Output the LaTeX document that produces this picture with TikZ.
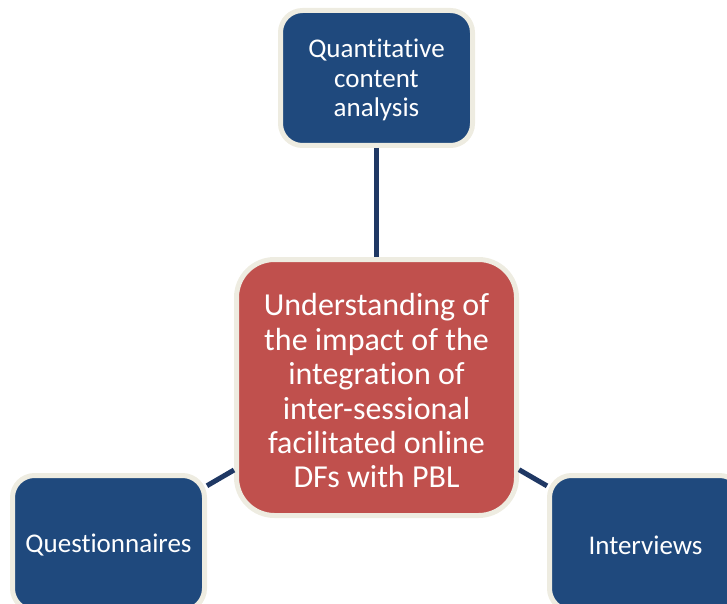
\documentclass[tikz,border=0pt]{standalone}
\usepackage{fontspec}
\setmainfont[Ligatures={NoCommon}]{Carlito}
\definecolor{boxblue}{HTML}{1F497D}
\definecolor{boxred}{HTML}{C0504D}
\definecolor{rim}{HTML}{EEECE1}
\definecolor{link}{HTML}{1F3864}
\tikzset{
  bluebox/.style={draw=rim, line width=5pt, fill=boxblue, rounded corners=22pt,
    minimum width=192pt, minimum height=135pt, text=white, align=center,
    inner sep=0pt, font=\fontsize{27}{29.5}\selectfont},
  redbox/.style={draw=rim, line width=5pt, fill=boxred, rounded corners=38pt,
    minimum width=280pt, minimum height=256pt, text=white, align=center,
    inner sep=0pt, font=\fontsize{32}{34.4}\selectfont},
  linkline/.style={draw=link, line width=5pt}
}
\begin{document}
\begin{tikzpicture}[x=1pt,y=-1pt]
\useasboundingbox (0,0) rectangle (727,604);
\clip (0,0) rectangle (727,604);
\node[bluebox] (top) at (376.5,78) {};
\node[redbox] (mid) at (376.5,387.5) {};
\node[bluebox] (left) at (108.5,543) {};
\node[bluebox] (right) at (645.5,543) {};
\draw[linkline] (top) -- (mid);
\draw[linkline] (left) -- (mid);
\draw[linkline] (right) -- (mid);
\node[text=white, align=center, font=\fontsize{27}{29.5}\selectfont] (toptext) at (376.5,80) {Quantitative\\content\\analysis};
\node[text=white, align=center, font=\fontsize{32}{34.4}\selectfont] (midtext) at (376.5,391) {Understanding of\\the impact of the\\integration of\\inter-sessional\\facilitated online\\DFs with PBL};
\node[text=white, font=\fontsize{27}{29.5}\selectfont] (lefttext) at (108.5,545) {Questionnaires};
\node[text=white, font=\fontsize{27}{29.5}\selectfont] (righttext) at (645.5,545) {Interviews};
\end{tikzpicture}
\end{document}
